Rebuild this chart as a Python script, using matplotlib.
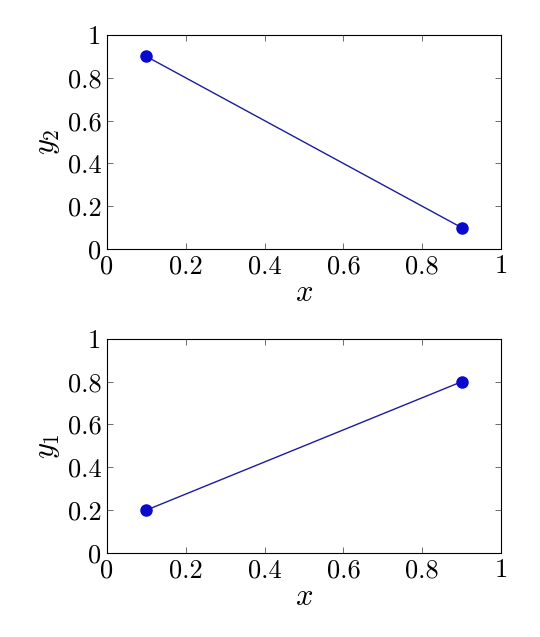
import matplotlib
matplotlib.use("Agg")
import matplotlib.pyplot as plt

x_top = [0.1, 0.9]
y2 = [0.9, 0.1]
x_bot = [0.1, 0.9]
y1 = [0.2, 0.8]
ticks = [0, 0.2, 0.4, 0.6, 0.8, 1]
tick_labels = ["0", "0.2", "0.4", "0.6", "0.8", "1"]

plt.rcParams["font.family"] = "serif"
plt.rcParams["font.serif"] = ["cmr10"]
plt.rcParams["mathtext.fontset"] = "cm"
plt.rcParams["font.size"] = 14

fig = plt.figure(figsize=(5.4, 6.37), dpi=100)
ax_top = fig.add_axes([0.198, 0.609, 0.73, 0.336])
ax_bot = fig.add_axes([0.198, 0.132, 0.73, 0.336])

for ax, xs, ys, lab in [(ax_top, x_top, y2, "$y_2$"), (ax_bot, x_bot, y1, "$y_1$")]:
    ax.plot(xs, ys, color="#1c1c9c", lw=1.0, marker="o", ms=8,
            mfc="#0a0acc", mec="#0a0acc")
    ax.set_xlim(0, 1)
    ax.set_ylim(0, 1)
    ax.set_xticks(ticks)
    ax.set_xticklabels(tick_labels)
    ax.set_yticks(ticks)
    ax.set_yticklabels(tick_labels)
    ax.tick_params(direction="in", top=True, right=True, length=4,
                   width=0.6, labelsize=19, pad=4, color="#555555")
    ax.set_xlabel("$x$", fontsize=22, labelpad=1)
    ax.set_ylabel(lab, fontsize=22, labelpad=4)
    for s in ax.spines.values():
        s.set_linewidth(0.8)

fig.savefig("out.png", dpi=100)
